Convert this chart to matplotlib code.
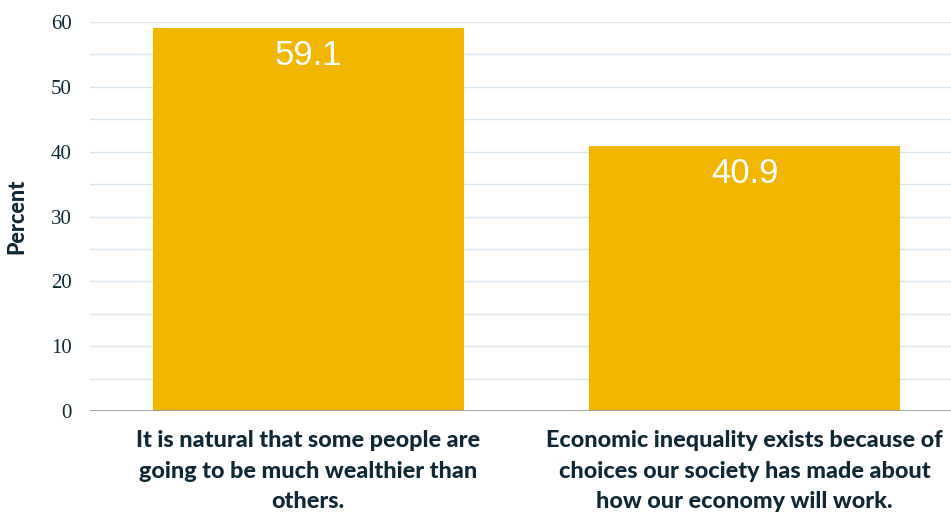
import numpy as np
import matplotlib.pyplot as plt

# survey answers and shares (percent)
categories = [
    "It is natural that some people are\ngoing to be much wealthier than\nothers.",
    "Economic inequality exists because of\nchoices our society has made about\nhow our economy will work.",
]
values = [59.1, 40.9]
yticks = [0, 10, 20, 30, 40, 50, 60]

bar_color = "#f2b600"
ink = "#0f2836"

fig = plt.figure(figsize=(9.51, 5.21), dpi=100)
# plot area runs past the right edge of the figure
ax = fig.add_axes([90 / 951, 1 - 411 / 521, 873 / 951, 389 / 521])

x = np.arange(len(values))
bars = ax.bar(x, values, width=0.712, color=bar_color, zorder=2)

for b, v in zip(bars, values):
    ax.annotate(f"{v}", (b.get_x() + b.get_width() / 2, v),
                xytext=(0, -8), textcoords="offset points",
                ha="center", va="top", color="white", fontsize=25,
                family="Liberation Sans")

ax.set_xlim(-0.5, 1.5)
ax.set_ylim(0, 60)
ax.set_yticks(yticks)
ax.set_yticks(np.arange(5, 60, 10), minor=True)
ax.grid(axis="y", which="both", color="#d8e4ee", linewidth=1, zorder=0)
ax.axhline(0, color="#8d99a3", linewidth=1.2, zorder=3)

for s in ax.spines.values():
    s.set_visible(False)

ax.tick_params(axis="y", which="both", length=0, pad=13)
ax.tick_params(axis="x", length=0, pad=14)
for t in ax.get_yticklabels():
    t.set_family("Liberation Serif")
    t.set_fontsize(15)
    t.set_color(ink)

ax.set_xticks(x)
ax.set_xticklabels(categories, family="Lato", fontweight="black",
                   fontsize=16.8, color=ink, linespacing=1.55)

ax.set_ylabel("Percent", family="Lato", fontweight="black", fontsize=15.5,
              color=ink, labelpad=17)

fig.savefig("out.png", dpi=100)
